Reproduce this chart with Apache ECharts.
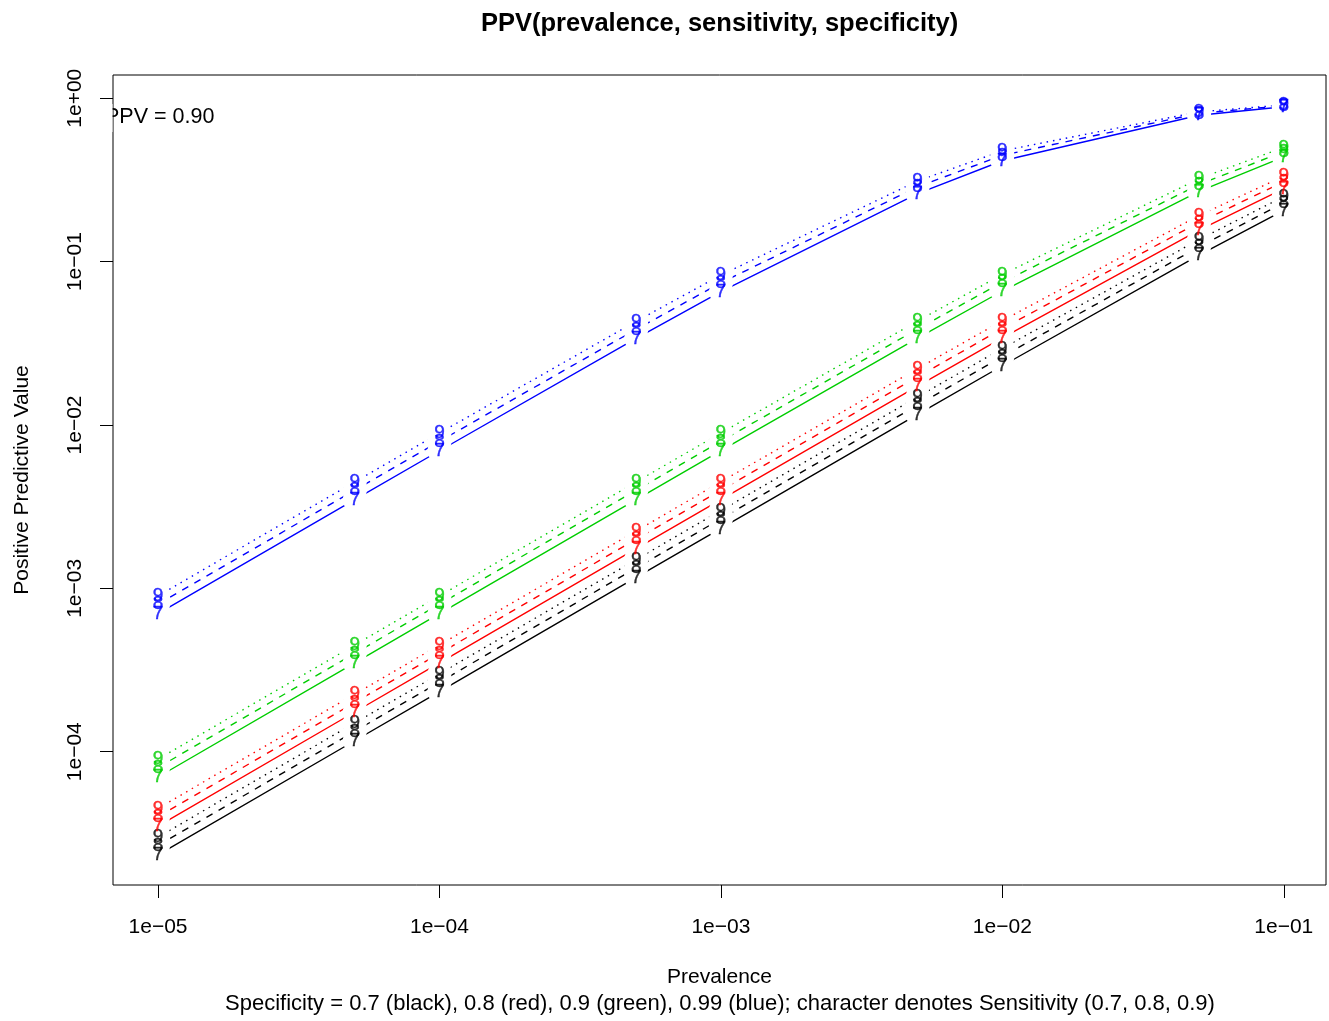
<!DOCTYPE html>
<html>
<head>
<meta charset="utf-8">
<title>PPV(prevalence, sensitivity, specificity)</title>
<script src="https://cdn.jsdelivr.net/npm/echarts@6/dist/echarts.min.js"></script>
<style>
  html, body { margin: 0; padding: 0; background: #fff; }
  #main { width: 1329px; height: 1021px; }
</style>
</head>
<body>
<div id="main"></div>
<script>
// x: prevalence, y: positive predictive value (both on log scale)
const prevalence = [1e-5, 5e-5, 1e-4, 5e-4, 1e-3, 5e-3, 1e-2, 5e-2, 1e-1];

// plotting character for sensitivity 0.7 / 0.8 / 0.9
const sensChars = ['7', '8', '9'];

// PPV, one row per sensitivity (0.7, 0.8, 0.9)
// specificity 0.7 (black)
const ppvBlack = [
  [2.333e-5, 1.167e-4, 2.333e-4, 1.166e-3, 2.330e-3, 1.159e-2, 2.303e-2, 0.1094, 0.2059],
  [2.667e-5, 1.333e-4, 2.666e-4, 1.332e-3, 2.662e-3, 1.322e-2, 2.623e-2, 0.1231, 0.2286],
  [3.000e-5, 1.500e-4, 2.999e-4, 1.499e-3, 2.994e-3, 1.485e-2, 2.941e-2, 0.1364, 0.2500]
];
// specificity 0.8 (red)
const ppvRed = [
  [3.500e-5, 1.750e-4, 3.499e-4, 1.748e-3, 3.491e-3, 1.728e-2, 3.415e-2, 0.1556, 0.2800],
  [4.000e-5, 2.000e-4, 3.999e-4, 1.997e-3, 3.988e-3, 1.970e-2, 3.884e-2, 0.1739, 0.3077],
  [4.500e-5, 2.250e-4, 4.498e-4, 2.246e-3, 4.484e-3, 2.211e-2, 4.348e-2, 0.1915, 0.3333]
];
// specificity 0.9 (green)
const ppvGreen = [
  [7.000e-5, 3.499e-4, 6.996e-4, 3.490e-3, 6.958e-3, 3.398e-2, 6.604e-2, 0.2692, 0.4375],
  [7.999e-5, 3.999e-4, 7.994e-4, 3.986e-3, 7.944e-3, 3.865e-2, 7.477e-2, 0.2963, 0.4706],
  [8.999e-5, 4.498e-4, 8.993e-4, 4.482e-3, 8.929e-3, 4.327e-2, 8.333e-2, 0.3214, 0.5000]
];
// specificity 0.99 (blue)
const ppvBlue = [
  [6.995e-4, 3.488e-3, 6.952e-3, 3.383e-2, 6.548e-2, 0.2602, 0.4142, 0.7865, 0.8861],
  [7.994e-4, 3.984e-3, 7.937e-3, 3.848e-2, 7.414e-2, 0.2867, 0.4469, 0.8081, 0.8989],
  [8.992e-4, 4.480e-3, 8.921e-3, 4.308e-2, 8.264e-2, 0.3114, 0.4762, 0.8257, 0.9091]
];

const xTicks = [1e-5, 1e-4, 1e-3, 1e-2, 1e-1];
const xTickLabels = ['1e\u221205', '1e\u221204', '1e\u221203', '1e\u221202', '1e\u221201'];
const yTicks = [1e-4, 1e-3, 1e-2, 1e-1, 1];
const yTickLabels = ['1e\u221204', '1e\u221203', '1e\u221202', '1e\u221201', '1e+00'];

const FONT = 'Liberation Sans, Arial, Helvetica, sans-serif';
const groups = [
  { rows: ppvBlack, color: '#000000' },
  { rows: ppvRed, color: '#ff0000' },
  { rows: ppvGreen, color: '#00cd00' },
  { rows: ppvBlue, color: '#0000ff' }
];
// lty 1, 2, 3 in R
const lineTypes = ['solid', [7, 7], [1.5, 5]];

function tickLabel(ticks, labels) {
  return function (v) {
    for (let i = 0; i < ticks.length; i++) {
      if (Math.abs(Math.log10(v) - Math.log10(ticks[i])) < 0.01) return labels[i];
    }
    return '';
  };
}

const series = [];
groups.forEach(function (g) {
  g.rows.forEach(function (row, k) {
    const pts = prevalence.map(function (p, i) { return [p, row[i]]; });
    // the line itself
    series.push({
      type: 'line',
      z: 2,
      data: pts,
      symbol: 'none',
      silent: true,
      lineStyle: { color: g.color, width: 1.4, type: lineTypes[k] }
    });
    // white disc to open the gap around each point (type = "b")
    series.push({
      type: 'scatter',
      z: 3,
      data: pts,
      symbol: 'circle',
      symbolSize: 24,
      silent: true,
      itemStyle: { color: '#ffffff', opacity: 1 }
    });
    // the plotting character
    series.push({
      type: 'scatter',
      z: 4,
      data: pts,
      symbol: 'circle',
      symbolSize: 1,
      silent: true,
      itemStyle: { color: 'rgba(0,0,0,0)' },
      label: {
        show: true,
        position: 'inside',
        formatter: sensChars[k],
        color: g.color,
        fontSize: 19,
        fontFamily: FONT,
        textBorderColor: g.color,
        textBorderWidth: 0.4
      }
    });
  });
});

const chart = echarts.init(document.getElementById('main'), null, { renderer: 'canvas' });
chart.setOption({
  animation: false,
  backgroundColor: '#ffffff',
  title: {
    text: 'PPV(prevalence, sensitivity, specificity)',
    left: 476,
    top: 6,
    textStyle: { fontFamily: FONT, fontSize: 25.5, fontWeight: 'bold', color: '#000' }
  },
  grid: {
    left: 113,
    top: 75,
    width: 1213,
    height: 810,
    show: true,
    borderColor: '#000',
    borderWidth: 1,
    backgroundColor: 'transparent'
  },
  xAxis: {
    type: 'log',
    logBase: 10,
    min: Math.pow(10, -5.16),
    max: Math.pow(10, -0.85),
    name: 'Prevalence',
    nameLocation: 'middle',
    nameGap: 82,
    nameTextStyle: { fontFamily: FONT, fontSize: 21, color: '#000' },
    axisLine: { show: false },
    axisTick: { show: true, length: 13, customValues: xTicks, lineStyle: { color: '#000', width: 1 } },
    axisLabel: {
      customValues: xTicks,
      formatter: tickLabel(xTicks, xTickLabels),
      margin: 32,
      fontFamily: FONT,
      fontSize: 21,
      color: '#000'
    },
    splitLine: { show: false },
    minorTick: { show: false }
  },
  yAxis: {
    type: 'log',
    logBase: 10,
    min: Math.pow(10, -4.816),
    max: Math.pow(10, 0.142),
    name: 'Positive Predictive Value',
    nameLocation: 'middle',
    nameRotate: 90,
    nameGap: 80,
    nameTextStyle: { fontFamily: FONT, fontSize: 21, color: '#000' },
    axisLine: { show: false },
    axisTick: { show: true, length: 13, customValues: yTicks, lineStyle: { color: '#000', width: 1 } },
    axisLabel: {
      customValues: yTicks,
      formatter: tickLabel(yTicks, yTickLabels),
      rotate: 90,
      margin: 27,
      fontFamily: FONT,
      fontSize: 21,
      color: '#000'
    },
    splitLine: { show: false },
    minorTick: { show: false }
  },
  graphic: [
    {
      type: 'text',
      left: 105,
      top: 106,
      z: 50,
      style: { text: 'PPV = 0.90', fontFamily: FONT, fontSize: 21.5, fill: '#000' }
    },
    {
      // text is clipped by the plot region, as in the original
      type: 'rect',
      shape: { x: 90, y: 104, width: 22.5, height: 28 },
      z: 60,
      style: { fill: '#ffffff' }
    },
    {
      type: 'text',
      x: 720,
      y: 993,
      style: {
        text: 'Specificity = 0.7 (black), 0.8 (red), 0.9 (green), 0.99 (blue); character denotes Sensitivity (0.7, 0.8, 0.9)',
        fontFamily: FONT,
        fontSize: 22,
        fill: '#000',
        align: 'center'
      }
    }
  ],
  series: series
});
</script>
</body>
</html>
